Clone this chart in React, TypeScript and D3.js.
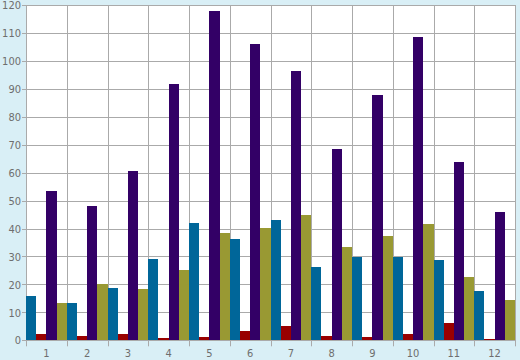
import React from "react";
import * as d3 from "d3";

const categories = ["1", "2", "3", "4", "5", "6", "7", "8", "9", "10", "11", "12"];
const seriesNames = ["A", "B", "C", "D"];
const seriesA = [15.8, 13.4, 18.8, 29, 42, 36.2, 43.1, 26.2, 29.9, 29.9, 28.7, 17.6];
const seriesB = [2.2, 1.5, 2.2, 0.8, 1.2, 3.3, 5.1, 1.5, 1.2, 2.2, 6.2, 0.5];
const seriesC = [53.4, 48, 60.6, 91.8, 117.9, 106, 96.4, 68.3, 87.8, 108.6, 63.7, 45.9];
const seriesD = [13.4, 20.2, 18.3, 25.2, 38.4, 40.2, 44.9, 33.3, 37.2, 41.6, 22.6, 14.3];
const yTicks = [0, 10, 20, 30, 40, 50, 60, 70, 80, 90, 100, 110, 120];
const colors = ["#006699", "#990000", "#330066", "#999933"];

export default function App() {
  const W = 520, H = 360;
  const left = 26, right = 515, top = 5, bottom = 340.3;
  const series = [seriesA, seriesB, seriesC, seriesD];
  const x = d3.scaleBand<string>().domain(categories).range([left, right]).padding(0);
  const xi = d3.scaleBand<string>().domain(seriesNames).range([0, x.bandwidth()]).padding(0);
  const y = d3.scaleLinear().domain([0, 120]).range([bottom, top]);
  const px = (v: number) => Math.round(v) + 0.5;
  const grid = "#aaaaaa";
  const font = "'DejaVu Sans Condensed', 'DejaVu Sans', Verdana, sans-serif";
  const boundaries = categories.map((c) => x(c)!).concat([right]);

  return (
    <svg width={W} height={H} style={{ position: "fixed", top: 0, left: 0, display: "block" }}>
      <rect x={0} y={0} width={W} height={H} fill="#d9eff6" />
      <rect x={left} y={top} width={right - left} height={bottom - top} fill="#ffffff" />
      {yTicks.map((t) => (
        <g key={"y" + t}>
          <line x1={22} x2={right} y1={px(y(t))} y2={px(y(t))} stroke={grid} strokeWidth={1} />
          <text x={21} y={y(t)} dy="0.38em" textAnchor="end" fontFamily={font} fontSize={11} fill="#6e6e6e">{t}</text>
        </g>
      ))}
      {boundaries.map((b, i) => (
        <line key={"v" + i} x1={px(b)} x2={px(b)} y1={top} y2={bottom + 6} stroke={grid} strokeWidth={1} />
      ))}
      {categories.map((c, ci) => (
        <g key={"c" + c}>
          {series.map((s, si) => (
            <rect
              key={si}
              x={x(c)! + xi(seriesNames[si])!}
              y={y(s[ci])}
              width={xi.bandwidth()}
              height={y(0) - y(s[ci])}
              fill={colors[si]}
              shapeRendering="crispEdges"
            />
          ))}
          <text x={x(c)! + x.bandwidth() / 2} y={357} textAnchor="middle" fontFamily={font} fontSize={11} fill="#6e6e6e">{c}</text>
        </g>
      ))}
    </svg>
  );
}
